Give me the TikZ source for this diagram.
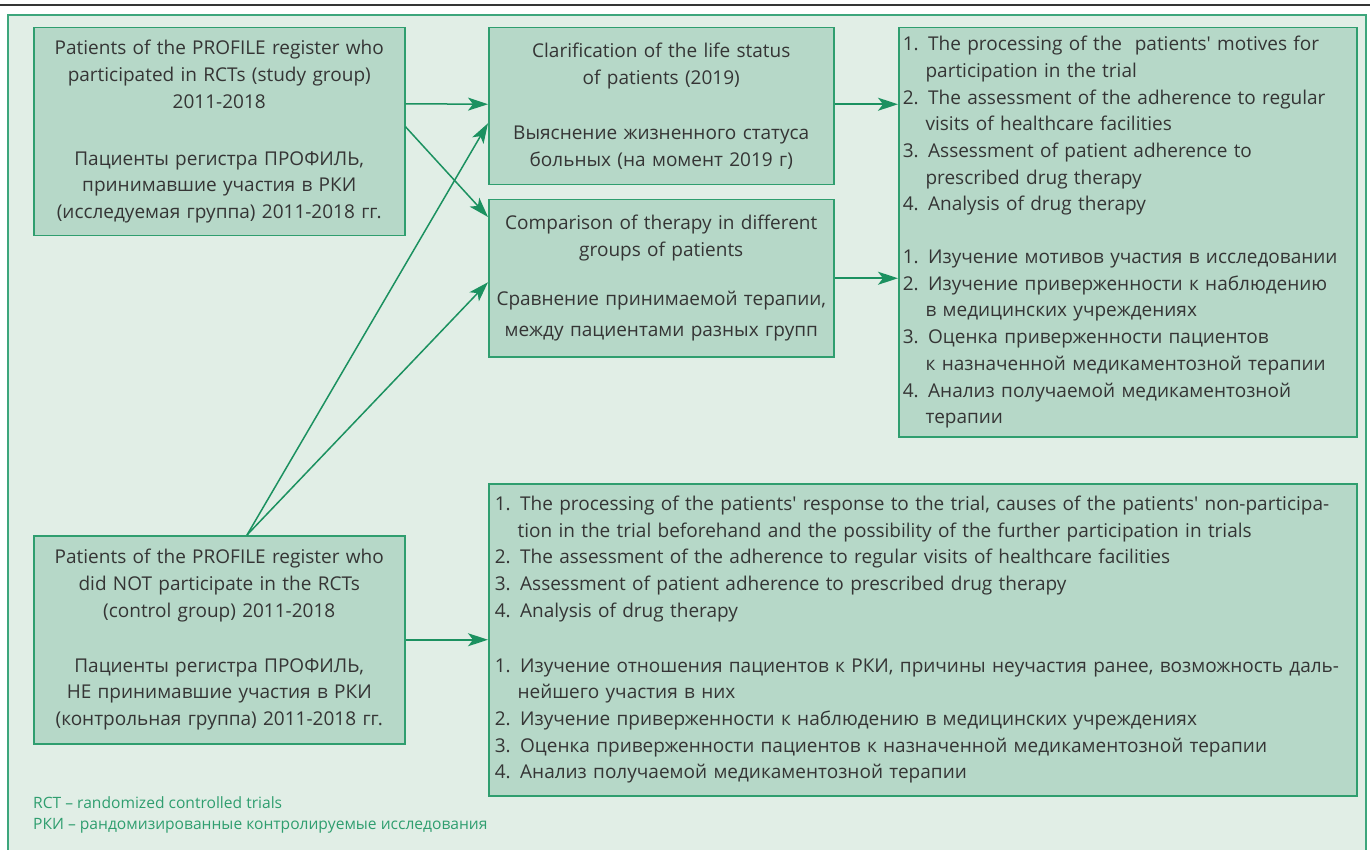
\documentclass[tikz,border=0pt]{standalone}
\usepackage{fontspec}
\setmainfont{Open Sans}[Ligatures=TeXOff]
\usetikzlibrary{arrows.meta,positioning,calc}
\definecolor{panelfill}{HTML}{E1EEE6}
\definecolor{panelline}{HTML}{3DA67C}
\definecolor{boxfill}{HTML}{B6D8C8}
\definecolor{boxline}{HTML}{2F9E6F}
\definecolor{arrowgreen}{HTML}{1B9160}
\definecolor{txt}{HTML}{353535}
\tikzset{>={Stealth[length=20pt,width=13pt,inset=5pt]}}
\tikzstyle{groupbox}=[draw=boxline,fill=boxfill,line width=1.5pt,inner sep=0pt,anchor=north west,text=txt,font=\fontsize{19}{26.7}\selectfont]
\tikzstyle{link}=[->,draw=arrowgreen,line width=1.5pt]
\newcommand{\cnt}{\hspace*{1.2em}}

\begin{document}
\begin{tikzpicture}[x=1pt,y=-1pt]
	\useasboundingbox (0,0) rectangle (1370,850);
	\draw[line width=2pt,txt] (0,5) -- (1370,5);
	\draw[fill=panelfill,draw=panelline,line width=2pt] (8,15) rectangle (1366,870);

		% left: the two groups of patients
		\node[groupbox,minimum width=371pt,minimum height=208pt,text width=362pt,align=center] (study) at (33,27)
		{Patients of the PROFILE register who\\ participated in RCTs (study group)\\ 2011-2018\\[30pt]
		 Пациенты регистра ПРОФИЛЬ,\\ принимавшие участия в РКИ\\ (исследуемая группа) 2011-2018 гг.};
		\node[groupbox,minimum width=371pt,minimum height=208pt,text width=362pt,align=center] (control) at (33,535)
		{Patients of the PROFILE register who\\ did NOT participate in the RCTs\\ (control group) 2011-2018\\[28pt]
		 Пациенты регистра ПРОФИЛЬ,\\ НЕ принимавшие участия в РКИ\\ (контрольная группа) 2011-2018 гг.};

		% middle
		\node[groupbox,minimum width=345pt,minimum height=157pt,text width=338pt,align=center] (status) at (488,27)
		{Clarification of the life status\\ of patients (2019)\\[29pt]
		 Выяснение жизненного статуса\\ больных (на момент 2019 г)};
		\node[groupbox,minimum width=345pt,minimum height=157pt,text width=338pt,align=center] (therapy) at (488,199)
		{Comparison of therapy in different\\ groups of patients\\[22pt]
		 Сравнение принимаемой терапии,\\[5pt] между пациентами разных групп};

		% right: tasks
		\node[groupbox,minimum width=458pt,minimum height=409pt,text width=450pt,align=left] (tasks) at (898,27)
		{1. The processing of the \ patients' motives for\\ \cnt participation in the trial\\
		 2. The assessment of the adherence to regular\\ \cnt visits of healthcare facilities\\
		 3. Assessment of patient adherence to\\ \cnt prescribed drug therapy\\
		 4. Analysis of drug therapy\\[26pt]
		 1. Изучение мотивов участия в исследовании\\
		 2. Изучение приверженности к наблюдению\\ \cnt в медицинских учреждениях\\
		 3. Оценка приверженности пациентов\\ \cnt к назначенной медикаментозной терапии\\
		 4. Анализ получаемой медикаментозной\\ \cnt терапии};
		\node[groupbox,minimum width=868pt,minimum height=312pt,text width=856pt,align=left] (survey) at (488,483)
		{1. The processing of the patients' response to the trial, causes of the patients' non-participa-\\
		 \cnt tion in the trial beforehand and the possibility of the further participation in trials\\
		 2. The assessment of the adherence to regular visits of healthcare facilities\\
		 3. Assessment of patient adherence to prescribed drug therapy\\
		 4. Analysis of drug therapy\\[28pt]
		 1. Изучение отношения пациентов к РКИ, причины неучастия ранее, возможность даль-\\
		 \cnt нейшего участия в них\\
		 2. Изучение приверженности к наблюдению в медицинских учреждениях\\
		 3. Оценка приверженности пациентов к назначенной медикаментозной терапии\\
		 4. Анализ получаемой медикаментозной терапии};

		\coordinate (ctop) at (247,535);
		\draw[link] ([yshift=28pt]study.east) -- ([yshift=2pt]status.west);
		\draw[link] ([yshift=5pt]study.east) -- ([yshift=-18pt]therapy.north west);
		\draw[link] (ctop) -- ([yshift=-17pt]status.west);
		\draw[link] (ctop) -- ([yshift=-4pt]therapy.west);
		\draw[link] ([yshift=2pt]status.east) -- ([yshift=2pt]status.east -| tasks.west);
		\draw[link] (therapy.east) -- (therapy.east -| tasks.west);
		\draw[link] (control.east) -- (survey.west);

		\node[anchor=north west,inner sep=0pt,align=left,text=boxline,font=\fontsize{15.6}{21}\selectfont] (notes) at (33,796)
		{RCT – randomized controlled trials\\ РКИ – рандомизированные контролируемые исследования};
	\end{tikzpicture}
\end{document}
